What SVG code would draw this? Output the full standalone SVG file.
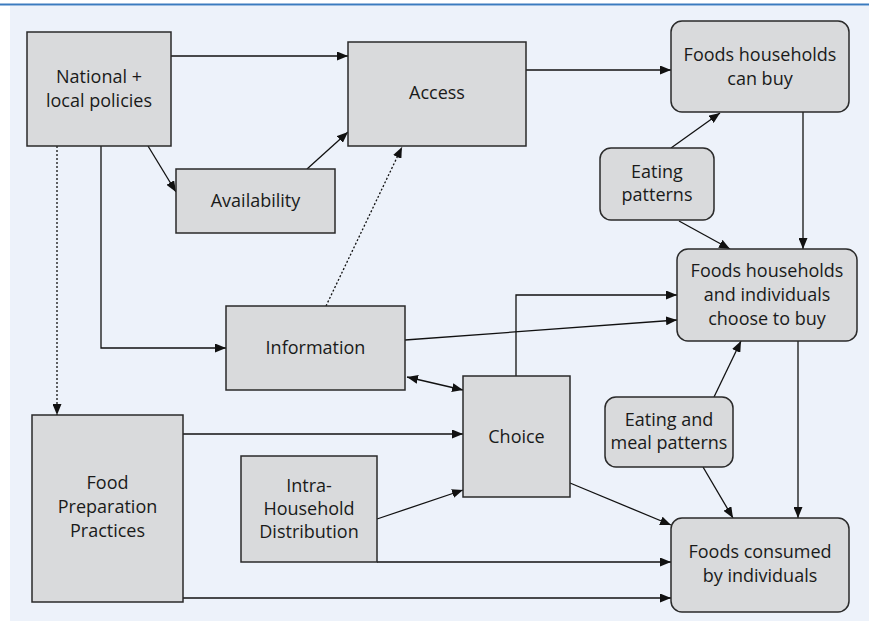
<svg xmlns="http://www.w3.org/2000/svg" width="869" height="621" viewBox="0 0 869 621">
  <defs>
    <marker id="ah" markerUnits="userSpaceOnUse" markerWidth="11" markerHeight="9" refX="11" refY="4.5" orient="auto-start-reverse">
      <path d="M0,0 L11,4.5 L0,9 z" fill="#111"/>
    </marker>
    <style>
      .node { fill: #d9dadc; stroke: #2a2a2a; stroke-width: 1.5; }
      .lbl { font-family: "Open Sans", "Noto Sans", sans-serif; font-size: 18px; fill: #1a1a1a; text-anchor: middle; }
      .ln { fill: none; stroke: #111; stroke-width: 1.3; }
      .arr { marker-end: url(#ah); }
      .dot { stroke-dasharray: 2 2; }
    </style>
  </defs>
  <rect x="0" y="0" width="869" height="621" fill="#ffffff"/>
  <rect x="10" y="6" width="859" height="615" fill="#edf2fa"/>
  <line x1="0" y1="4.5" x2="869" y2="4.5" stroke="#3b7bbf" stroke-width="2"/>

  <g id="connectors">
    <path class="ln arr" d="M171,56 L348,56"/>
    <path class="ln arr" d="M526,70 L671,70"/>
    <path class="ln arr" d="M148,146 L176,192"/>
    <path class="ln arr" d="M307,169 L348,132"/>
    <path class="ln arr" d="M101,146 L101,348 L226,348"/>
    <path class="ln arr dot" d="M57,146 L57,415"/>
    <path class="ln arr dot" d="M326,306 L402,147"/>
    <path class="ln arr" d="M671,148 L720,113"/>
    <path class="ln arr" d="M679,221 L730,249"/>
    <path class="ln arr" d="M803,112 L803,249"/>
    <path class="ln arr" d="M405,340 L677,320"/>
    <path class="ln arr" d="M516,376 L516,295 L677,295"/>
    <path class="ln arr" d="M407,377 L463,390" marker-start="url(#ah)"/>
    <path class="ln arr" d="M183,434 L463,434"/>
    <path class="ln arr" d="M377,519 L463,490"/>
    <path class="ln arr" d="M377,562 L671,562"/>
    <path class="ln arr" d="M183,598 L671,598"/>
    <path class="ln arr" d="M570,483 L671,525"/>
    <path class="ln arr" d="M798,341 L798,518"/>
    <path class="ln arr" d="M703,467 L733,518"/>
    <path class="ln arr" d="M714,397 L741,341"/>
  </g>

  <g id="national">
    <rect class="node" x="27" y="32" width="144" height="114"/>
    <text class="lbl" x="99" y="83">National +</text>
    <text class="lbl" x="99" y="107">local policies</text>
  </g>
  <g id="access">
    <rect class="node" x="348" y="42" width="178" height="104"/>
    <text class="lbl" x="437" y="99">Access</text>
  </g>
  <g id="availability">
    <rect class="node" x="176" y="169" width="159" height="64"/>
    <text class="lbl" x="255.5" y="207">Availability</text>
  </g>
  <g id="can-buy">
    <rect class="node" x="671" y="21" width="178" height="91" rx="11"/>
    <text class="lbl" x="760" y="61">Foods households</text>
    <text class="lbl" x="760" y="85">can buy</text>
  </g>
  <g id="eating-patterns">
    <rect class="node" x="600" y="148" width="114" height="72" rx="11"/>
    <text class="lbl" x="657" y="178">Eating</text>
    <text class="lbl" x="657" y="201">patterns</text>
  </g>
  <g id="choose-to-buy">
    <rect class="node" x="677" y="249" width="180" height="92" rx="11"/>
    <text class="lbl" x="767" y="277">Foods households</text>
    <text class="lbl" x="767" y="301">and individuals</text>
    <text class="lbl" x="767" y="325">choose to buy</text>
  </g>
  <g id="information">
    <rect class="node" x="226" y="306" width="179" height="84"/>
    <text class="lbl" x="315.5" y="354">Information</text>
  </g>
  <g id="choice">
    <rect class="node" x="463" y="376" width="107" height="121"/>
    <text class="lbl" x="516.5" y="443">Choice</text>
  </g>
  <g id="eating-meal">
    <rect class="node" x="605" y="397" width="128" height="70" rx="11"/>
    <text class="lbl" x="669" y="426">Eating and</text>
    <text class="lbl" x="669" y="449">meal patterns</text>
  </g>
  <g id="food-prep">
    <rect class="node" x="32" y="415" width="151" height="187"/>
    <text class="lbl" x="107.5" y="489">Food</text>
    <text class="lbl" x="107.5" y="513">Preparation</text>
    <text class="lbl" x="107.5" y="537">Practices</text>
  </g>
  <g id="intra">
    <rect class="node" x="241" y="456" width="136" height="106"/>
    <text class="lbl" x="309" y="492">Intra-</text>
    <text class="lbl" x="309" y="515">Household</text>
    <text class="lbl" x="309" y="538">Distribution</text>
  </g>
  <g id="consumed">
    <rect class="node" x="671" y="518" width="178" height="94" rx="11"/>
    <text class="lbl" x="760" y="558">Foods consumed</text>
    <text class="lbl" x="760" y="582">by individuals</text>
  </g>
</svg>
